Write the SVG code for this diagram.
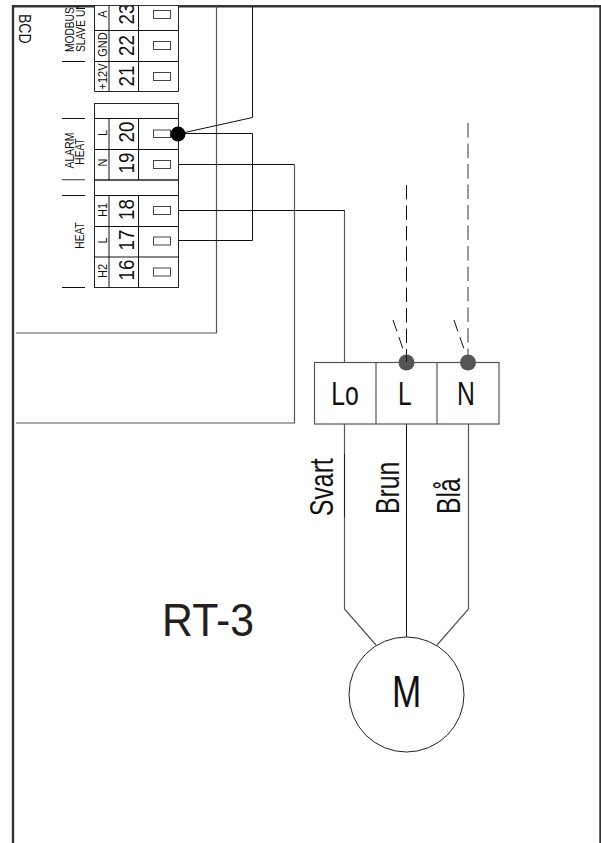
<svg xmlns="http://www.w3.org/2000/svg" width="601" height="843" viewBox="0 0 601 843">
<defs><clipPath id="page"><rect x="12" y="6" width="589" height="837"/></clipPath></defs>
<style>
text{font-family:"Liberation Sans",Arial,sans-serif;fill:#111}
.g{fill:none;stroke:#555;stroke-width:1.2}
.b{fill:none;stroke:#111;stroke-width:1}
.cell{fill:#fff;stroke:#222;stroke-width:1}
.t{fill:#fff;stroke:#444;stroke-width:1}
.num{font-size:22px;text-anchor:middle}
.lab{font-size:12.5px;text-anchor:middle}
.cap{font-size:12px;text-anchor:middle}
.big{font-size:33px;text-anchor:middle}
</style>
<rect width="601" height="843" fill="#fff"/>
<g id="frame"><path d="M13 843V6.2H600.5V843" fill="none" stroke="#333" stroke-width="2.4"/><path d="M600.5 7V843" fill="none" stroke="#333" stroke-width="1"/></g>
<g id="connectors">
<path class="g" d="M216.5 6V333H16"/>
<path class="b" d="M252.5 6V117.5L178 134"/>
<path class="b" d="M178 133.5H252.5V240.5H178"/>
<path class="b" d="M178 164.5H294.5"/>
<path class="g" d="M294.5 164.5V423H16"/>
<path class="b" d="M178 210.5H345"/>
<path class="g" d="M344.5 210.5V362"/>
<path class="g" d="M344.5 424V609L376 645"/>
<path class="b" d="M406.5 424V637"/>
<path class="g" d="M468.5 424V609L437 645"/>
<path d="M344.5 454V517" fill="none" stroke="#222" stroke-width="1"/>
<path class="b" stroke-dasharray="14.5 6" d="M406.5 185V362"/>
<path class="g" stroke-dasharray="14.5 6" d="M468 123V362"/>
<path class="b" stroke-dasharray="12 6" d="M393 320L403 349"/>
<path class="b" stroke-dasharray="12 6" d="M454 320L464 349"/>
</g>
<g id="ticks">
<path class="b" d="M62 61.5H85M62 118.5H85M62 195.5H85M62 287.5H85"/>
<path class="g" d="M62 179.7H85" stroke-width="1.5"/>
</g>
<g id="terminals" clip-path="url(#page)">
<path class="cell" d="M94.5 -10H178.5V91.5H94.5Z"/>
<path class="b" d="M94.5 30.5H178.5M94.5 61.5H178.5M109 -10V91.5M138.5 -10V91.5"/>
<rect class="cell" x="94.5" y="103.5" width="84" height="184"/>
<path class="b" d="M94.5 118.5H178.5M94.5 149.5H178.5M94.5 195.5H178.5M94.5 226.5H178.5M94.5 257H178.5"/>
<path d="M94.5 180H178.5" fill="none" stroke="#222" stroke-width="1.6"/>
<path class="b" d="M109 118.5V180M138.5 118.5V180M109 195.5V287.5M138.5 195.5V287.5"/>
<rect class="t" x="153.5" y="10.5" width="17" height="8"/>
<rect class="t" x="153.5" y="41.5" width="17" height="8"/>
<rect class="t" x="153.5" y="72.5" width="17" height="8"/>
<rect class="t" x="153.5" y="130" width="17" height="7.5"/>
<rect class="t" x="153.5" y="160.5" width="17" height="8"/>
<rect class="t" x="153.5" y="206.5" width="17" height="8"/>
<rect class="t" x="153.5" y="237" width="17" height="8"/>
<rect class="t" x="153.5" y="268" width="17" height="8"/>
<text class="num" transform="translate(133.5 14) rotate(-90) scale(.85 1)">23</text>
<text class="num" transform="translate(133.5 45.5) rotate(-90) scale(.85 1)">22</text>
<text class="num" transform="translate(133.5 76) rotate(-90) scale(.85 1)">21</text>
<text class="num" transform="translate(133.5 132) rotate(-90) scale(.85 1)">20</text>
<text class="num" transform="translate(133.5 163) rotate(-90) scale(.85 1)">19</text>
<text class="num" transform="translate(133.5 209.5) rotate(-90) scale(.85 1)">18</text>
<text class="num" transform="translate(133.5 240) rotate(-90) scale(.85 1)">17</text>
<text class="num" transform="translate(133.5 270) rotate(-90) scale(.85 1)">16</text>
<text class="lab" transform="translate(106.5 14) rotate(-90) scale(.88 1)">A</text>
<text class="lab" transform="translate(106.5 44.5) rotate(-90) scale(.88 1)">GND</text>
<text class="lab" transform="translate(106.5 76.5) rotate(-90) scale(.88 1)">+12V</text>
<text class="lab" transform="translate(106.5 133) rotate(-90) scale(.88 1)">L</text>
<text class="lab" transform="translate(106.5 162.5) rotate(-90) scale(.88 1)">N</text>
<text class="lab" transform="translate(106.5 210) rotate(-90) scale(.88 1)">H1</text>
<text class="lab" transform="translate(106.5 240.5) rotate(-90) scale(.88 1)">L</text>
<text class="lab" transform="translate(106.5 271) rotate(-90) scale(.88 1)">H2</text>
<text class="cap" style="text-anchor:start" transform="translate(74 52) rotate(-90) scale(.85 1)">MODBUS</text>
<text class="cap" style="text-anchor:start" transform="translate(85 52) rotate(-90) scale(.85 1)">SLAVE UNIT</text>
</g>
<g id="caps">
<text class="cap" transform="translate(73.5 150.5) rotate(-90) scale(.87 1)">ALARM</text>
<text class="cap" transform="translate(83.5 151.5) rotate(-90) scale(.85 1)">HEAT</text>
<text class="cap" transform="translate(83.5 235.5) rotate(-90) scale(.85 1)">HEAT</text>
<text transform="translate(19 14) rotate(90) scale(.85 1)" font-size="16.5">BCD</text>
</g>
<g id="junction-20"><circle cx="178" cy="134" r="7.5" fill="#000"/></g>
<g id="switch-box">
<rect class="g" x="314.5" y="362.5" width="184.5" height="61.5" style="fill:#fff"/>
<path class="g" d="M376 362.5V424M437 362.5V424"/>
<text class="big" transform="translate(345 405) scale(.75 1)">Lo</text>
<text class="big" transform="translate(405 405) scale(.75 1)">L</text>
<text class="big" transform="translate(466 405) scale(.75 1)">N</text>
</g>
<g id="dots"><circle cx="406.5" cy="362.5" r="8" fill="#555"/><circle cx="468" cy="362.5" r="8" fill="#555"/>
<path class="b" d="M406.5 355V362"/><path class="g" d="M468 355V362"/></g>
<g id="wire-labels">
<text class="big" style="text-anchor:start" transform="translate(333 516) rotate(-90) scale(.75 1)">Svart</text>
<text class="big" style="text-anchor:start" transform="translate(399 514) rotate(-90) scale(.75 1)">Brun</text>
<text class="big" style="text-anchor:start" transform="translate(460 514) rotate(-90) scale(.75 1)">Blå</text>
</g>
<g id="motor"><circle cx="406.5" cy="694.5" r="57.5" fill="#fff" stroke="#222" stroke-width="1"/>
<text transform="translate(406.5 707) scale(.78 1)" font-size="45" text-anchor="middle">M</text></g>
<g id="title"><text transform="translate(208 636) scale(.93 1)" font-size="46" text-anchor="middle" style="fill:#231f20">RT-3</text></g>
</svg>
